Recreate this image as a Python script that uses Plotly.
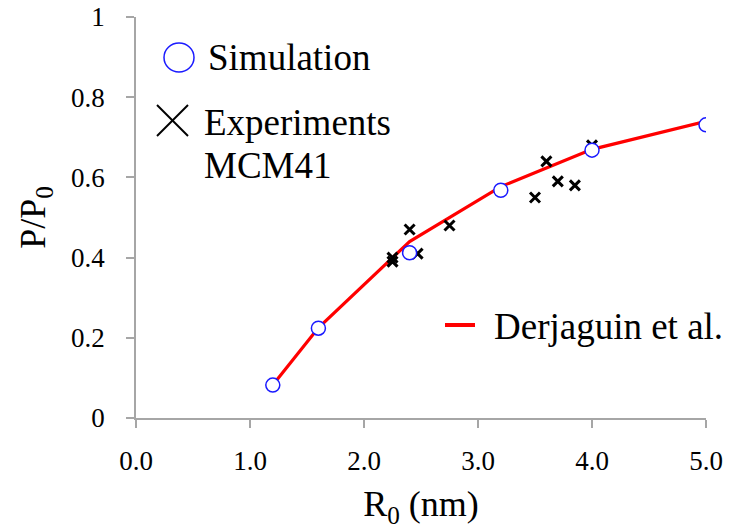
import plotly.graph_objects as go

# ---- data ----
sim_x = [1.2, 1.6, 2.4, 3.2, 4.0, 5.0]
sim_y = [0.082, 0.224, 0.412, 0.568, 0.668, 0.731]

der_x = [1.2, 1.6, 2.4, 3.2, 4.0, 5.0]
der_y = [0.082, 0.225, 0.440, 0.577, 0.670, 0.740]

exp_x = [2.25, 2.25, 2.40, 2.47, 2.75, 3.50, 3.60, 3.70, 3.85, 4.00]
exp_y = [0.400, 0.390, 0.470, 0.410, 0.480, 0.550, 0.640, 0.590, 0.580, 0.680]

x_ticks = [0, 1, 2, 3, 4, 5]
y_ticks = [0, 0.2, 0.4, 0.6, 0.8, 1]

legend_sim = "Simulation"
legend_exp = ["Experiments", "MCM41"]
legend_der = "Derjaguin et al."

# ---- layout geometry (pixels) ----
W, H = 742, 529
L, R, T, B = 136, 36, 17, 111
PW, PH = W - L - R, H - T - B
FONT = "'Liberation Serif', 'Times New Roman', serif"
AXC = "#a6a6a6"


def px(xp):
    return (xp - L) / PW


def py(yp):
    return (H - B - yp) / PH


fig = go.Figure()

fig.add_trace(go.Scatter(
    x=der_x, y=der_y, mode="lines",
    line=dict(color="#ff0000", width=3.2),
    showlegend=False, hoverinfo="skip"))

fig.add_trace(go.Scatter(
    x=exp_x, y=exp_y, mode="markers",
    marker=dict(symbol="x-thin", size=10, color="black",
                line=dict(color="black", width=3)),
    showlegend=False))

fig.add_trace(go.Scatter(
    x=sim_x, y=sim_y, mode="markers",
    marker=dict(symbol="circle", size=14, color="white",
                line=dict(color="#1a1aff", width=1.5)),
    showlegend=False))

shapes = [
    dict(type="circle", xref="paper", yref="paper",
         x0=px(164), x1=px(194), y0=py(72), y1=py(43),
         line=dict(color="#1a1aff", width=1.5), fillcolor="rgba(0,0,0,0)"),
    dict(type="line", xref="paper", yref="paper",
         x0=px(157), y0=py(105), x1=px(188), y1=py(136),
         line=dict(color="black", width=2)),
    dict(type="line", xref="paper", yref="paper",
         x0=px(157), y0=py(136), x1=px(188), y1=py(105),
         line=dict(color="black", width=2)),
    dict(type="line", xref="paper", yref="paper",
         x0=px(445), y0=py(325), x1=px(475), y1=py(325),
         line=dict(color="#ff0000", width=4)),
]

ann_font = dict(family=FONT, size=37, color="black")
annotations = [
    dict(text=legend_sim, x=px(206), y=py(57), xref="paper", yref="paper",
         xanchor="left", yanchor="middle", showarrow=False, font=ann_font),
    dict(text=legend_exp[0], x=px(202), y=py(122), xref="paper", yref="paper",
         xanchor="left", yanchor="middle", showarrow=False, font=ann_font),
    dict(text=legend_exp[1], x=px(202), y=py(166), xref="paper", yref="paper",
         xanchor="left", yanchor="middle", showarrow=False, font=ann_font),
    dict(text=legend_der, x=px(492), y=py(326), xref="paper", yref="paper",
         xanchor="left", yanchor="middle", showarrow=False, font=ann_font),
]

fig.update_layout(
    width=W, height=H,
    margin=dict(l=L, r=R, t=T, b=B, autoexpand=False),
    paper_bgcolor="white", plot_bgcolor="white",
    font=dict(family=FONT, size=27, color="black"),
    shapes=shapes, annotations=annotations,
    showlegend=False,
)

fig.update_xaxes(
    range=[0, 5], tickvals=x_ticks, tickformat=".1f",
    automargin=False,
    showgrid=False, zeroline=False,
    showline=True, linecolor=AXC, linewidth=1.5,
    ticks="outside", ticklen=8, tickcolor=AXC, tickwidth=1.5,
    tickfont=dict(family=FONT, size=27),
    ticklabelstandoff=10,
    title=dict(text="R<sub>0</sub> (nm)", font=dict(family=FONT, size=36), standoff=18),
)

fig.update_yaxes(
    range=[0, 1], tickvals=y_ticks,
    automargin=False,
    showgrid=False, zeroline=False,
    showline=True, linecolor=AXC, linewidth=1.5,
    ticks="outside", ticklen=8, tickcolor=AXC, tickwidth=1.5,
    tickfont=dict(family=FONT, size=27),
    ticklabelstandoff=16,
    title=dict(text="P/P<sub>0</sub>", font=dict(family=FONT, size=36), standoff=14),
)

fig.write_html("out.html")
